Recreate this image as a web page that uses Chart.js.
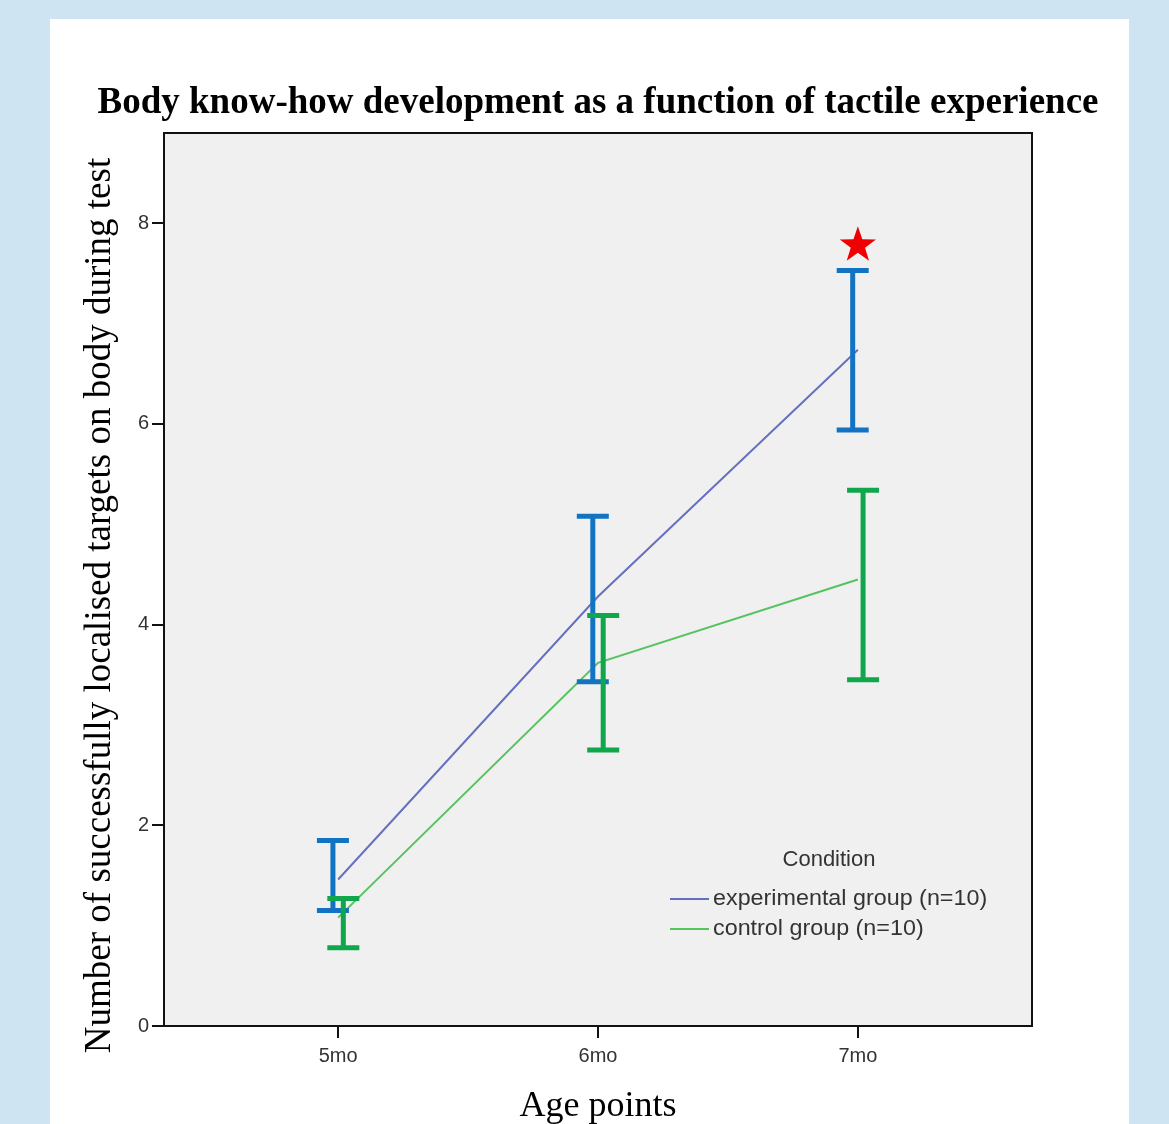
<!DOCTYPE html>
<html>
<head>
<meta charset="utf-8">
<script src="https://cdn.jsdelivr.net/npm/chart.js@4.4.0/dist/chart.umd.min.js"></script>
<style>
  html, body { margin: 0; padding: 0; background: #cfe4f3; }
  #panel { position: absolute; left: 50px; top: 19px; width: 1079px; height: 1105px; background: #fff; }
</style>
</head>
<body>
<div id="panel"><canvas id="myChart" width="1079" height="1105"></canvas></div>
<script>
const ages = ['5mo', '6mo', '7mo'];
const yTicks = [0, 2, 4, 6, 8];

const expMean = [1.46, 4.28, 6.74];
const expLow = [1.15, 3.43, 5.94];
const expHigh = [1.85, 5.08, 7.53];

const ctlMean = [1.08, 3.62, 4.45];
const ctlLow = [0.78, 2.75, 3.45];
const ctlHigh = [1.27, 4.09, 5.34];

const starAt = { x: 2, y: 7.8 };

const toPoints = (arr) => arr.map((v, i) => ({ x: i, y: v }));

const data = {
    datasets: [{
            label: 'experimental group (n=10)',
            data: toPoints(expMean),
            borderColor: '#6670bf',
            borderWidth: 2,
            pointRadius: 0,
            tension: 0,
            barColor: '#1273c3',
            low: expLow,
            high: expHigh,
            dodge: -0.02
        },
        {
            label: 'control group (n=10)',
            data: toPoints(ctlMean),
            borderColor: '#55c35e',
            borderWidth: 2,
            pointRadius: 0,
            tension: 0,
            barColor: '#0fa64c',
            low: ctlLow,
            high: ctlHigh,
            dodge: 0.02
        }
    ]
};

// plot background, border, error bars, star, legend and title
const extras = {
    id: 'extras',
    beforeDatasetsDraw(chart) {
        const { ctx, chartArea: a } = chart;
        ctx.save();
        ctx.fillStyle = '#f0f0f0';
        ctx.fillRect(a.left, a.top, a.right - a.left, a.bottom - a.top);
        ctx.restore();
    },
    afterDatasetsDraw(chart) {
        const { ctx, chartArea: a, scales: { x, y } } = chart;
        ctx.save();
        chart.data.datasets.forEach((ds) => {
            ctx.strokeStyle = ds.barColor;
            ctx.lineWidth = 5;
            ds.low.forEach((lo, i) => {
                const px = x.getPixelForValue(i + ds.dodge);
                const y1 = y.getPixelForValue(lo);
                const y2 = y.getPixelForValue(ds.high[i]);
                ctx.beginPath();
                ctx.moveTo(px, y1);
                ctx.lineTo(px, y2);
                ctx.moveTo(px - 16, y1);
                ctx.lineTo(px + 16, y1);
                ctx.moveTo(px - 16, y2);
                ctx.lineTo(px + 16, y2);
                ctx.stroke();
            });
        });

        // significance star
        const sx = x.getPixelForValue(starAt.x);
        const sy = y.getPixelForValue(starAt.y);
        ctx.fillStyle = '#f00000';
        ctx.beginPath();
        for (let k = 0; k < 10; k++) {
            const r = k % 2 === 0 ? 19 : 7.5;
            const ang = -Math.PI / 2 + k * Math.PI / 5;
            const px = sx + r * Math.cos(ang);
            const py = sy + 2 + r * Math.sin(ang);
            if (k === 0) ctx.moveTo(px, py); else ctx.lineTo(px, py);
        }
        ctx.closePath();
        ctx.fill();

        // legend
        ctx.font = '22px Arial, "Liberation Sans", sans-serif';
        ctx.fillStyle = '#333';
        ctx.textBaseline = 'middle';
        ctx.textAlign = 'center';
        ctx.fillText('Condition', a.left + 665, a.top + 727);
        ctx.textAlign = 'left';
        chart.data.datasets.forEach((ds, i) => {
            const ly = a.top + 766 + i * 30;
            ctx.strokeStyle = ds.borderColor;
            ctx.lineWidth = 2;
            ctx.beginPath();
            ctx.moveTo(a.left + 506, ly);
            ctx.lineTo(a.left + 545, ly);
            ctx.stroke();
            ctx.save();
            ctx.translate(a.left + 549, ly);
            ctx.scale(1.06, 1);
            ctx.fillText(ds.label, 0, 0);
            ctx.restore();
        });

        // frame
        ctx.strokeStyle = '#111';
        ctx.lineWidth = 2;
        ctx.strokeRect(a.left, a.top, a.right - a.left, a.bottom - a.top);

        // title
        ctx.fillStyle = '#000';
        ctx.textAlign = 'center';
        ctx.textBaseline = 'middle';
        ctx.font = 'bold 37px "Liberation Serif", "Times New Roman", serif';
        ctx.fillText('Body know-how development as a function of tactile experience', (a.left + a.right) / 2, a.top - 30);

        // y title
        ctx.font = '37px "Liberation Serif", "Times New Roman", serif';
        ctx.translate(50, (a.top + a.bottom) / 2 + 26);
        ctx.rotate(-Math.PI / 2);
        ctx.fillText('Number of successfully localised targets on body during test', 0, 0);
        ctx.restore();
    }
};

const config = {
    type: 'line',
    data: data,
    options: {
        responsive: false,
        animation: false,
        layout: { padding: { top: 114, right: 97, left: 0, bottom: 0 } },
        plugins: {
            legend: { display: false },
            tooltip: { enabled: false }
        },
        scales: {
            x: {
                type: 'linear',
                min: -0.67,
                max: 2.67,
                afterBuildTicks: (s) => { s.ticks = ages.map((_, i) => ({ value: i })); },
                afterFit: (s) => { s.height = 98; },
                ticks: {
                    callback: (v) => ages[v],
                    color: '#333',
                    font: { family: 'Arial, "Liberation Sans", sans-serif', size: 20 },
                    padding: 6,
                    maxRotation: 0
                },
                grid: { drawOnChartArea: false, drawTicks: true, tickLength: 12, color: '#111', lineWidth: 2 },
                border: { display: true, color: '#111', width: 2 },
                title: {
                    display: true,
                    text: 'Age points',
                    color: '#000',
                    font: { family: '"Liberation Serif", "Times New Roman", serif', size: 36 },
                    padding: { top: 0, bottom: -4 }
                }
            },
            y: {
                min: 0,
                max: 8.9,
                afterBuildTicks: (s) => { s.ticks = yTicks.map((v) => ({ value: v })); },
                afterFit: (s) => { s.width = 114; },
                ticks: {
                    color: '#333',
                    font: { family: 'Arial, "Liberation Sans", sans-serif', size: 20 },
                    padding: 3
                },
                grid: { drawOnChartArea: false, drawTicks: true, tickLength: 12, color: '#111', lineWidth: 2 },
                border: { display: true, color: '#111', width: 2 }
            }
        }
    },
    plugins: [extras]
};

const myChart = new Chart(document.getElementById('myChart'), config);
</script>
</body>
</html>
